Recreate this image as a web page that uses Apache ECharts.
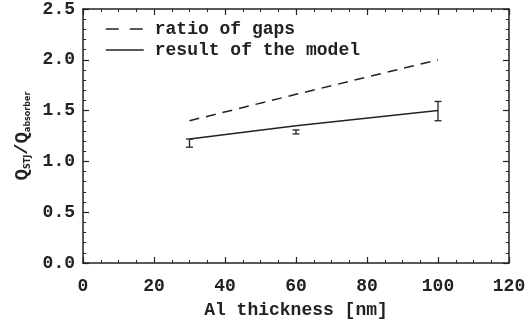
<!DOCTYPE html>
<html>
<head>
<meta charset="utf-8">
<script src="https://cdn.jsdelivr.net/npm/echarts@6/dist/echarts.min.js"></script>
<style>
  html, body { margin: 0; padding: 0; background: #fff; }
  #chart { width: 531px; height: 326px; }
</style>
</head>
<body>
<div id="chart"></div>
<script>
// thickness of the Al layer [nm]
var thickness = [30, 60, 100];
// ratio of gaps (dashed)
var ratioOfGaps = [1.40, 1.66, 2.00];
// result of the model (solid)
var modelResult = [1.22, 1.35, 1.50];
// measured values with errors: low / high
var measLow = [1.14, 1.27, 1.40];
var measHigh = [1.22, 1.31, 1.59];

var ink = "#222";
var font = "Liberation Mono";

var chart = echarts.init(document.getElementById("chart"));

function pairs(xs, ys) {
  return xs.map(function (x, i) { return [x, ys[i]]; });
}

function errBar(params, api) {
  var x = api.value(0);
  var lo = api.coord([x, api.value(1)]);
  var hi = api.coord([x, api.value(2)]);
  var w = 3.5;
  var st = { stroke: ink, lineWidth: 1.3 };
  return {
    type: "group",
    children: [
      { type: "line", shape: { x1: hi[0], y1: hi[1], x2: lo[0], y2: lo[1] }, style: st },
      { type: "line", shape: { x1: hi[0] - w, y1: hi[1], x2: hi[0] + w, y2: hi[1] }, style: st },
      { type: "line", shape: { x1: lo[0] - w, y1: lo[1], x2: lo[0] + w, y2: lo[1] }, style: st }
    ]
  };
}

//刻度样式，四边都画
function frame(split) {
  return {
    axisLine: { show: true, onZero: false, lineStyle: { color: ink, width: 1.5 } },
    axisTick: { show: true, inside: true, length: 6, lineStyle: { color: ink, width: 1.2 } },
    minorTick: { show: true, splitNumber: split, length: 3, lineStyle: { color: ink, width: 1 } },
    splitLine: { show: false }
  };
}

var labelStyle = { fontFamily: font, fontSize: 18, fontWeight: "bold", color: ink };

chart.setOption({
  animation: false,
  backgroundColor: "#fff",
  grid: { left: 83, right: 22, top: 8, bottom: 63 },
  legend: {
    orient: "vertical",
    left: 100,
    top: 15,
    itemWidth: 38,
    itemHeight: 14,
    itemGap: 3,
    itemStyle: { opacity: 0 },
    data: [
      { name: "ratio of gaps", lineStyle: { type: [13, 11], width: 1.5 } },
      { name: "result of the model", lineStyle: { width: 1.5 } }
    ],
    textStyle: { fontFamily: font, fontSize: 18, fontWeight: "bold", color: ink, lineHeight: 18, padding: [0, 0, 0, 6] }
  },
  xAxis: [
    Object.assign({
      type: "value", min: 0, max: 120, interval: 20,
      name: "Al thickness [nm]", nameLocation: "middle", nameGap: 38,
      nameTextStyle: labelStyle,
      axisLabel: Object.assign({ margin: 14 }, labelStyle)
    }, frame(4)),
    Object.assign({
      type: "value", min: 0, max: 120, interval: 20, position: "top",
      axisLabel: { show: false }
    }, frame(4))
  ],
  yAxis: [
    Object.assign({
      type: "value", min: 0, max: 2.5, interval: 0.5,
      name: "{q|Q}{s|STJ}{q|/Q}{s|absorber}", nameLocation: "middle", nameGap: 46, nameRotate: 90,
      nameTextStyle: {
        color: ink,
        rich: {
          q: { fontFamily: font, fontSize: 19, fontWeight: "bold", color: ink, lineHeight: 22, verticalAlign: "bottom" },
          s: { fontFamily: "DejaVu Sans", fontSize: 8, fontWeight: "bold", color: ink, lineHeight: 22, verticalAlign: "bottom", padding: [4, 0, 0, 0] }
        }
      },
      axisLabel: Object.assign({ margin: 8, formatter: function (v) { return v.toFixed(1); } }, labelStyle)
    }, frame(5)),
    Object.assign({
      type: "value", min: 0, max: 2.5, interval: 0.5, position: "right",
      axisLabel: { show: false }
    }, frame(5))
  ],
  series: [
    {
      name: "ratio of gaps",
      type: "line",
      data: pairs(thickness, ratioOfGaps),
      showSymbol: false,
      symbol: "none",
      lineStyle: { color: ink, width: 1.5, type: [10, 7] },
      itemStyle: { color: ink }
    },
    {
      name: "result of the model",
      type: "line",
      data: pairs(thickness, modelResult),
      showSymbol: false,
      symbol: "none",
      lineStyle: { color: ink, width: 1.5 },
      itemStyle: { color: ink }
    },
    {
      name: "measured",
      type: "custom",
      renderItem: errBar,
      encode: { x: 0, y: [1, 2] },
      data: thickness.map(function (x, i) { return [x, measLow[i], measHigh[i]]; }),
      z: 3
    }
  ]
});
</script>
</body>
</html>
